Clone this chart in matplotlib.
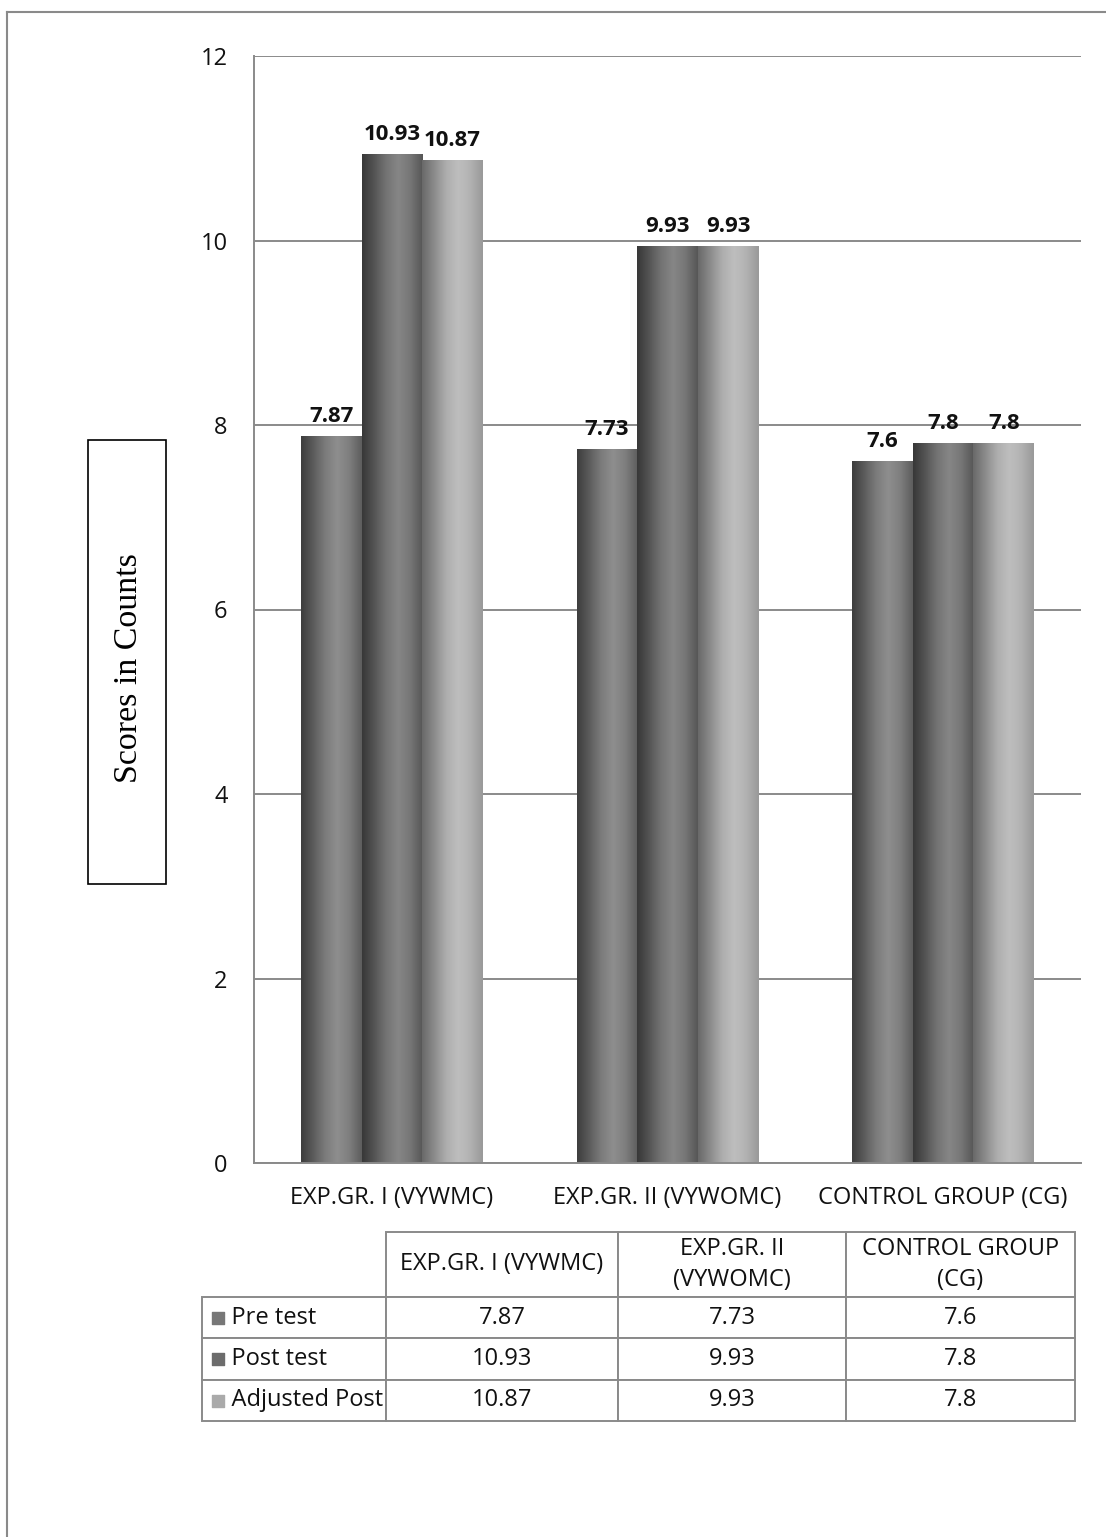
import numpy as np
import matplotlib
matplotlib.use("Agg")
import matplotlib.pyplot as plt
from matplotlib.colors import LinearSegmentedColormap
from matplotlib.patches import Rectangle
from matplotlib.lines import Line2D
from matplotlib.table import Table

plt.rcParams['font.family'] = ['Open Sans', 'DejaVu Sans']

groups = ["EXP.GR. I (VYWMC)", "EXP.GR. II (VYWOMC)", "CONTROL GROUP (CG)"]
table_headers = ["EXP.GR. I (VYWMC)", "EXP.GR. II\n(VYWOMC)", "CONTROL GROUP\n(CG)"]
series = ["Pre test", "Post test", "Adjusted Post"]
pre_test = [7.87, 7.73, 7.6]
post_test = [10.93, 9.93, 7.8]
adjusted_post = [10.87, 9.93, 7.8]
yticks = [0, 2, 4, 6, 8, 10, 12]

# cylinder-style shading across each bar, left edge to right edge
shades = [
    ["#3e3e3e", "#5c5c5c", "#7c7c7c", "#8e8e8e", "#7e7e7e", "#5e5e5e"],
    ["#383838", "#555555", "#747474", "#868686", "#767676", "#575757"],
    ["#6a6a6a", "#8c8c8c", "#aeaeae", "#bebebe", "#b2b2b2", "#9a9a9a"],
]
swatch = ["#777777", "#6c6c6c", "#aaaaaa"]
grid_col = "#8a8a8a"
txt_col = "#111111"

W, H = 1106, 1537
fig = plt.figure(figsize=(W / 100, H / 100), dpi=100)

ax = fig.add_axes([254 / W, 1 - 1163 / H, (1081 - 254) / W, (1163 - 56) / H])
x = np.arange(len(groups))
width = 0.22
ax.set_xlim(-0.5, 2.5)
ax.set_ylim(0, 12)
ax.set_autoscale_on(False)

for i, vals in enumerate([pre_test, post_test, adjusted_post]):
    cmap = LinearSegmentedColormap.from_list("bar%d" % i, shades[i])
    grad = np.linspace(0, 1, 64).reshape(1, -1)
    bars = ax.bar(x + (i - 1) * width, vals, width, color="none", edgecolor="none", zorder=2)
    for rect, v in zip(bars, vals):
        x0 = rect.get_x()
        ax.imshow(grad, cmap=cmap, aspect="auto", zorder=2,
                  extent=[x0, x0 + rect.get_width(), 0, rect.get_height()])
        ax.annotate("%g" % v, (x0 + rect.get_width() / 2, v), xytext=(0, 7),
                    textcoords="offset points", ha="center", va="bottom",
                    fontsize=16, fontweight="bold", color=txt_col)

ax.set_xlim(-0.5, 2.5)
ax.set_ylim(0, 12)
ax.set_yticks(yticks)
ax.set_xticks(x)
ax.set_xticklabels(groups)
ax.yaxis.grid(True, color=grid_col, linewidth=1.4, zorder=1)
ax.set_axisbelow(True)
ax.tick_params(axis="both", length=0, labelsize=17, colors=txt_col)
ax.tick_params(axis="y", pad=19)
ax.tick_params(axis="x", pad=16.5)
for s in ["top", "right"]:
    ax.spines[s].set_visible(False)
for s in ["left", "bottom"]:
    ax.spines[s].set_color(grid_col)
    ax.spines[s].set_linewidth(1.4)

# boxed y-axis title
fig.patches.append(Rectangle((88 / W, 1 - 884 / H), 78 / W, 444 / H, transform=fig.transFigure,
                             fill=False, edgecolor="black", linewidth=1.2))
fig.text(129 / W, 1 - 668 / H, "Scores in Counts", rotation=90, ha="center", va="center",
         fontsize=24.5, family="Liberation Serif")

# outer frame (top and left)
fig.lines.append(Line2D([7 / W, 1], [1 - 12 / H, 1 - 12 / H], transform=fig.transFigure,
                        color=grid_col, linewidth=1.5))
fig.lines.append(Line2D([7 / W, 7 / W], [0, 1 - 12 / H], transform=fig.transFigure,
                        color=grid_col, linewidth=1.5))

# data table under the chart
tax = fig.add_axes([202 / W, 1 - 1421 / H, (1075 - 202) / W, (1421 - 1232) / H])
tax.set_xlim(0, 1)
tax.set_ylim(0, 1)
tax.axis("off")
col_w = np.array([184, 232, 228, 229]) / 873
row_h = np.array([65, 41, 42, 41]) / 189
tbl = Table(tax, bbox=[0, 0, 1, 1])
tbl.auto_set_font_size(False)
for c in range(4):
    cell = tbl.add_cell(0, c, col_w[c], row_h[0], text="" if c == 0 else table_headers[c - 1], loc="center")
    if c == 0:
        cell.visible_edges = ""
data = [pre_test, post_test, adjusted_post]
for r in range(3):
    tbl.add_cell(r + 1, 0, col_w[0], row_h[r + 1], text="    " + series[r], loc="left")
    for c in range(3):
        tbl.add_cell(r + 1, c + 1, col_w[c + 1], row_h[r + 1], text="%g" % data[r][c], loc="center")
for cell in tbl.get_celld().values():
    cell.set_edgecolor(grid_col)
    cell.set_linewidth(1.4)
    cell.get_text().set_fontsize(17)
    cell.get_text().set_color(txt_col)
    cell.get_text().set_linespacing(1.35)
    cell.PAD = 0.025
tax.add_table(tbl)

y_edges = 1 - np.cumsum(row_h)
for r in range(3):
    yc = (y_edges[r] + y_edges[r + 1]) / 2
    tax.scatter([0.0185], [yc], marker="s", s=80, color=swatch[r], zorder=5)

fig.savefig("out.png", dpi=100)
